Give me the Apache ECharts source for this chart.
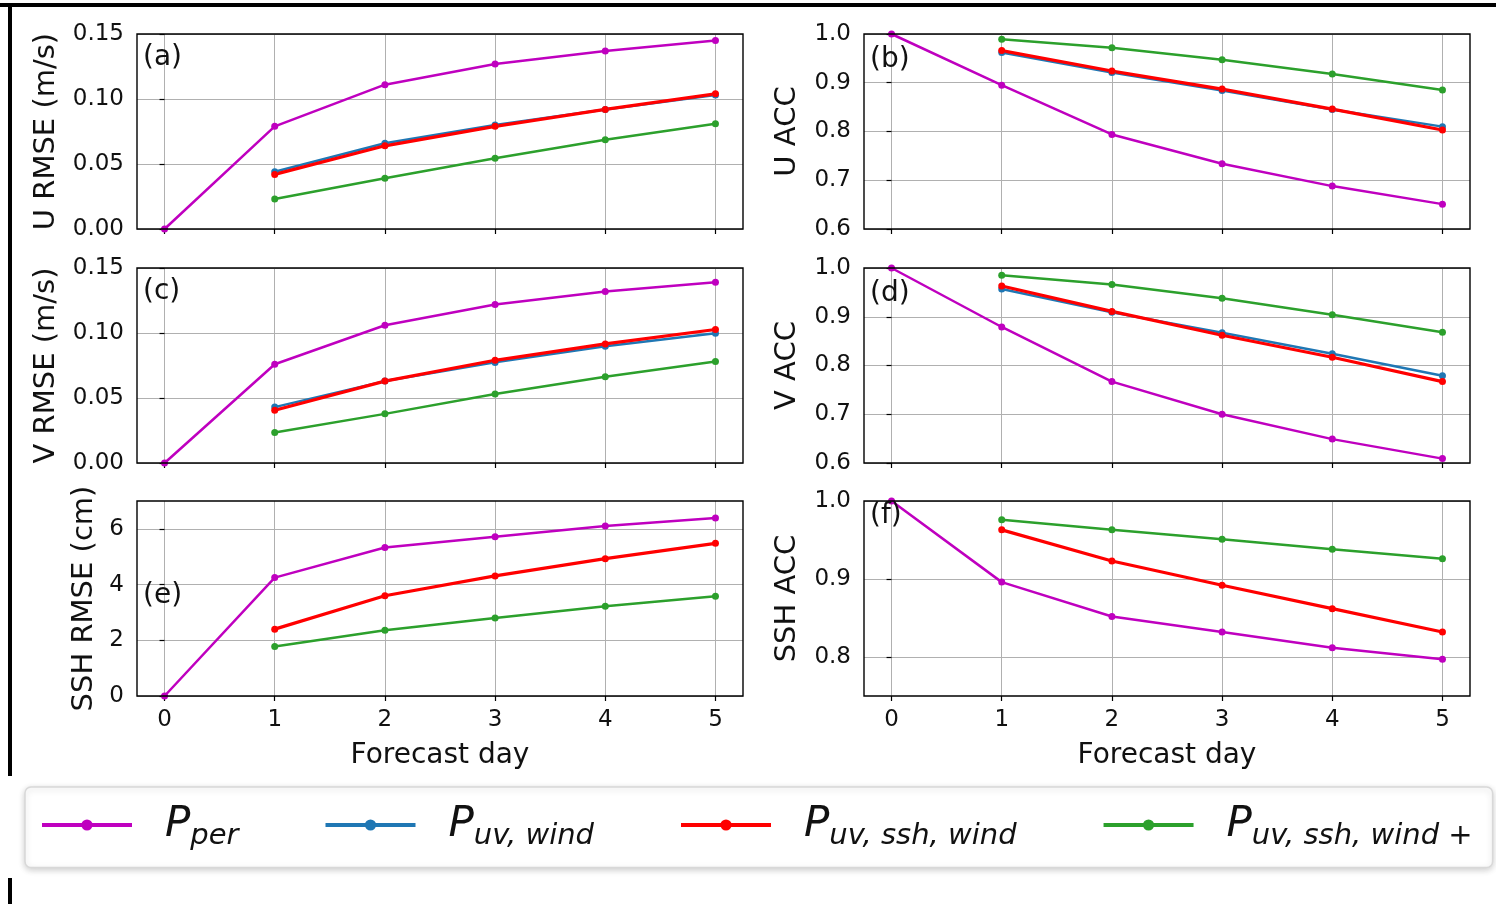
<!DOCTYPE html>
<html>
<head>
<meta charset="utf-8">
<script src="https://cdn.jsdelivr.net/npm/echarts@6/dist/echarts.min.js"></script>
<style>
  html, body { margin: 0; padding: 0; background: #fff; }
  #chart { width: 1496px; height: 904px; }
</style>
</head>
<body>
<div id="chart"></div>
<script>
// forecast days on the x axis
const days = [0, 1, 2, 3, 4, 5];
const dayTicks = [0, 1, 2, 3, 4, 5];

// (a) U RMSE (m/s)
const uRmsePer = [0, 0.079, 0.111, 0.127, 0.137, 0.145];
const uRmseUvWind = [null, 0.044, 0.066, 0.080, 0.092, 0.103];
const uRmseUvSshWind = [null, 0.042, 0.064, 0.079, 0.092, 0.104];
const uRmsePlus = [null, 0.023, 0.039, 0.0545, 0.0686, 0.081];

// (b) U ACC
const uAccPer = [1.0, 0.895, 0.794, 0.734, 0.688, 0.651];
const uAccUvWind = [null, 0.962, 0.921, 0.884, 0.845, 0.810];
const uAccUvSshWind = [null, 0.966, 0.924, 0.887, 0.846, 0.803];
const uAccPlus = [null, 0.989, 0.972, 0.947, 0.918, 0.885];

// (c) V RMSE (m/s)
const vRmsePer = [0, 0.076, 0.106, 0.122, 0.132, 0.139];
const vRmseUvWind = [null, 0.043, 0.063, 0.0774, 0.0898, 0.0998];
const vRmseUvSshWind = [null, 0.0406, 0.063, 0.079, 0.0916, 0.1027];
const vRmsePlus = [null, 0.0234, 0.0378, 0.053, 0.0664, 0.078];

// (d) V ACC
const vAccPer = [1.0, 0.879, 0.767, 0.700, 0.649, 0.609];
const vAccUvWind = [null, 0.957, 0.909, 0.867, 0.824, 0.779];
const vAccUvSshWind = [null, 0.963, 0.911, 0.862, 0.817, 0.767];
const vAccPlus = [null, 0.985, 0.966, 0.938, 0.904, 0.868];

// (e) SSH RMSE (cm)
const sshRmsePer = [0, 4.25, 5.33, 5.72, 6.10, 6.39];
const sshRmseUvSshWind = [null, 2.40, 3.60, 4.31, 4.93, 5.48];
const sshRmsePlus = [null, 1.78, 2.36, 2.80, 3.22, 3.58];

// (f) SSH ACC
const sshAccPer = [1.0, 0.896, 0.852, 0.832, 0.812, 0.797];
const sshAccUvSshWind = [null, 0.963, 0.923, 0.892, 0.862, 0.832];
const sshAccPlus = [null, 0.976, 0.963, 0.951, 0.938, 0.926];

// y tick labels per panel
const rmseTicks = [0, 0.05, 0.10, 0.15];
const accTicks = [0.6, 0.7, 0.8, 0.9, 1.0];
const sshRmseTicks = [0, 2, 4, 6];
const sshAccTicks = [0.8, 0.9, 1.0];

const FONT = 'DejaVu Sans';
const GRID_COLOR = '#b0b0b0';

const models = {
    per: { color: '#bf00bf', width: 2.5 },
    uvWind: { color: '#1f77b4', width: 2.5 },
    uvSshWind: { color: '#ff0000', width: 3.2 },
    plus: { color: '#2ca02c', width: 2.5 }
};

const legendLabels = {
    per: '{p|P}{s|per}',
    uvWind: '{p|P}{s|uv, wind}',
    uvSshWind: '{p|P}{s|uv, ssh, wind}',
    plus: '{p|P}{s|uv, ssh, wind +}'
};

const panels = [
    { tag: '(a)', name: 'U RMSE (m/s)', left: 137, top: 34, min: 0, max: 0.15, ticks: rmseTicks, dec: 2, xLabels: false,
      lines: { per: uRmsePer, uvWind: uRmseUvWind, uvSshWind: uRmseUvSshWind, plus: uRmsePlus }, tagTop: 44, nameGap: 76 },
    { tag: '(b)', name: 'U ACC', left: 864, top: 34, min: 0.6, max: 1.0, ticks: accTicks, dec: 1, xLabels: false,
      lines: { per: uAccPer, uvWind: uAccUvWind, uvSshWind: uAccUvSshWind, plus: uAccPlus }, tagTop: 46, nameGap: 62 },
    { tag: '(c)', name: 'V RMSE (m/s)', left: 137, top: 268, min: 0, max: 0.15, ticks: rmseTicks, dec: 2, xLabels: false,
      lines: { per: vRmsePer, uvWind: vRmseUvWind, uvSshWind: vRmseUvSshWind, plus: vRmsePlus }, tagTop: 278, nameGap: 76 },
    { tag: '(d)', name: 'V ACC', left: 864, top: 268, min: 0.6, max: 1.0, ticks: accTicks, dec: 1, xLabels: false,
      lines: { per: vAccPer, uvWind: vAccUvWind, uvSshWind: vAccUvSshWind, plus: vAccPlus }, tagTop: 280, nameGap: 62 },
    { tag: '(e)', name: 'SSH RMSE (cm)', left: 137, top: 501, min: 0, max: 7, ticks: sshRmseTicks, dec: 0, xLabels: true,
      lines: { per: sshRmsePer, uvSshWind: sshRmseUvSshWind, plus: sshRmsePlus }, tagTop: 582, nameGap: 38 },
    { tag: '(f)', name: 'SSH ACC', left: 864, top: 501, min: 0.75, max: 1.0, ticks: sshAccTicks, dec: 1, xLabels: true,
      lines: { per: sshAccPer, uvSshWind: sshAccUvSshWind, plus: sshAccPlus }, tagTop: 502, nameGap: 62 }
];

function toPoints(values) {
    return days.map((d, i) => [d, values[i]]).filter(p => p[1] !== null);
}

function buildOption() {
    const grid = [], xAxis = [], yAxis = [], series = [], title = [];

    panels.forEach((p, gi) => {
        grid.push({
            left: p.left, top: p.top, width: 606, height: 195,
            show: true, borderColor: '#000', borderWidth: 1.4,
            backgroundColor: 'transparent', z: 5,
            outerBoundsMode: 'none'
        });
        xAxis.push({
            type: 'value', gridIndex: gi, min: -0.25, max: 5.25,
            axisLine: { show: false },
            axisTick: { show: true, customValues: dayTicks, length: 5, lineStyle: { color: '#000', width: 1.2 } },
            axisLabel: { show: p.xLabels, customValues: dayTicks, margin: 13, fontSize: 23, fontFamily: FONT, color: '#111' },
            splitLine: { show: true, lineStyle: { color: GRID_COLOR, width: 1 } },
            name: p.xLabels ? 'Forecast day' : '',
            nameLocation: 'middle', nameGap: 46,
            nameTextStyle: { fontSize: 28, fontFamily: FONT, color: '#111' }
        });
        yAxis.push({
            type: 'value', gridIndex: gi, min: p.min, max: p.max,
            axisLine: { show: false },
            axisTick: { show: true, customValues: p.ticks, length: 5, lineStyle: { color: '#000', width: 1.2 } },
            axisLabel: {
                customValues: p.ticks, margin: 13, fontSize: 23, fontFamily: FONT, color: '#111',
                formatter: v => Number(v).toFixed(p.dec)
            },
            splitLine: { show: true, lineStyle: { color: GRID_COLOR, width: 1 } },
            name: p.name, nameLocation: 'middle', nameGap: p.nameGap,
            nameTextStyle: { fontSize: 29, fontFamily: FONT, color: '#111' }
        });
        title.push({
            text: p.tag, left: p.left + 6, top: p.tagTop, padding: 0,
            textStyle: { fontSize: 28, fontWeight: 'normal', fontFamily: FONT, color: '#111' }
        });
        Object.keys(models).forEach(key => {
            if (!p.lines[key]) return;
            series.push({
                name: key, type: 'line', xAxisIndex: gi, yAxisIndex: gi,
                data: toPoints(p.lines[key]),
                symbol: 'circle', symbolSize: 7,
                lineStyle: { color: models[key].color, width: models[key].width },
                itemStyle: { color: models[key].color },
                emphasis: { disabled: true },
                animation: false, z: 2
            });
        });
    });

    return {
        backgroundColor: '#fff',
        animation: false,
        title: title,
        grid: grid,
        xAxis: xAxis,
        yAxis: yAxis,
        series: series,
        legend: {
            data: Object.keys(models),
            left: 25, top: 787, width: 1470,
            padding: [17, 20, 17, 15],
            itemWidth: 90, itemHeight: 14, itemGap: 85,
            backgroundColor: '#fff',
            borderColor: '#d8d8d8', borderWidth: 1.5, borderRadius: 6,
            shadowBlur: 6, shadowColor: 'rgba(0,0,0,0.18)', shadowOffsetY: 2,
            lineStyle: { width: 4 },
            formatter: name => legendLabels[name],
            textStyle: {
                padding: [0, 0, 0, 28],
                rich: {
                    p: { fontSize: 42, fontStyle: 'italic', fontFamily: FONT, color: '#111' },
                    s: { fontSize: 29, fontStyle: 'italic', fontFamily: FONT, color: '#111', padding: [22, 0, 0, 0] }
                }
            }
        },
        graphic: [
            { type: 'rect', shape: { x: 0, y: 3, width: 1496, height: 4 }, style: { fill: '#000' } },
            { type: 'rect', shape: { x: 8, y: 3, width: 4, height: 773 }, style: { fill: '#000' } },
            { type: 'rect', shape: { x: 8, y: 878, width: 4, height: 26 }, style: { fill: '#000' } }
        ]
    };
}

function initChart() {
    const chart = echarts.init(document.getElementById('chart'), null, { renderer: 'canvas' });
    chart.setOption(buildOption());
    window.addEventListener('resize', chart.resize);
}

document.addEventListener('DOMContentLoaded', initChart);
</script>
</body>
</html>
